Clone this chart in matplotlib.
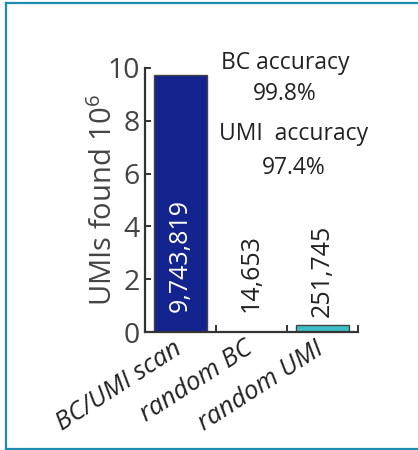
import matplotlib
matplotlib.use("Agg")
import matplotlib.pyplot as plt
from matplotlib.lines import Line2D
from matplotlib.transforms import ScaledTranslation

plt.rcParams["font.family"] = ["Open Sans", "DejaVu Sans"]
plt.rcParams["mathtext.fontset"] = "custom"
plt.rcParams["mathtext.rm"] = "Open Sans"
plt.rcParams["mathtext.it"] = "Open Sans:italic"

# data
categories = ["BC/UMI scan", "random BC", "random UMI"]
umi_counts = [9743819, 14653, 251745]
count_labels = ["9,743,819", "14,653", "251,745"]
bar_colors = ["#13248f", "#13248f", "#3dbfc7"]
yticks = [0, 2, 4, 6, 8, 10]
accuracy_notes = [("BC accuracy", "99.8%"), ("UMI  accuracy", "97.4%")]

values_m = [v / 1e6 for v in umi_counts]
xpos = [1, 2, 3]

fig = plt.figure(figsize=(4.18, 4.5), dpi=100)
ax = fig.add_axes([0.347, 0.262, 0.509, 0.587])

ink = "#333333"
ax.bar(xpos, values_m, width=0.74, color=bar_colors, edgecolor="#444444",
       linewidth=1.0, zorder=2)

ax.set_xlim(0.5, 3.5)
ax.set_ylim(0, 10)
for side in ("top", "right"):
    ax.spines[side].set_visible(False)
for side in ("left", "bottom"):
    ax.spines[side].set_color(ink)
    ax.spines[side].set_linewidth(1.6)

ax.set_yticks(yticks)
ax.set_yticklabels([str(t) for t in yticks], fontsize=20.5, color="#444444")
ax.tick_params(axis="y", direction="in", length=4, width=1.4, color=ink, pad=4)

# category labels at bar centres, tick marks between bars
ax.set_xticks(xpos)
ax.set_xticklabels(categories, rotation=33, ha="right", rotation_mode="anchor",
                   fontsize=18.5, style="italic", color="#222222")
ax.tick_params(axis="x", which="major", length=0, pad=3)
shift = ScaledTranslation(-8 / 100, 0, fig.dpi_scale_trans)
for lab in ax.get_xticklabels():
    lab.set_transform(lab.get_transform() + shift)
ax.set_xticks([1.5, 2.5, 3.5], minor=True)
ax.tick_params(axis="x", which="minor", direction="in", length=5, width=1.4,
               color=ink)

ax.set_ylabel(r"UMIs found $\mathregular{10^6}$", fontsize=21, color="#444444",
              labelpad=-9)

# count labels on the bars
ax.text(xpos[0], 2.9, count_labels[0], rotation=90, ha="center", va="center",
        color="white", fontsize=18)
ax.text(xpos[1], values_m[1] + 0.74, count_labels[1], rotation=90,
        ha="center", va="bottom", color="#222222", fontsize=18)
ax.text(xpos[2], values_m[2] + 0.32, count_labels[2], rotation=90,
        ha="center", va="bottom", color="#222222", fontsize=18)

# accuracy notes
ax.text(2.47, 9.96, accuracy_notes[0][0], ha="center", va="baseline",
        fontsize=16.5, color="#222222", clip_on=False)
ax.text(2.47, 8.79, accuracy_notes[0][1], ha="center", va="baseline",
        fontsize=16.5, color="#222222", clip_on=False)
ax.text(2.6, 7.27, accuracy_notes[1][0], ha="center", va="baseline",
        fontsize=16.5, color="#222222", clip_on=False)
ax.text(2.6, 5.98, accuracy_notes[1][1], ha="center", va="baseline",
        fontsize=16.5, color="#222222", clip_on=False)

# panel frame (open on the right)
W, H = 418, 450
frame = "#1b8db3"
fig.add_artist(Line2D([6 / W, 6 / W], [1 - 2.5 / H, 1 - 448.5 / H],
                      transform=fig.transFigure, color=frame, linewidth=1.6))
fig.add_artist(Line2D([6 / W, 1.0], [1 - 2.5 / H, 1 - 2.5 / H],
                      transform=fig.transFigure, color=frame, linewidth=1.6))
fig.add_artist(Line2D([6 / W, 1.0], [1 - 448.5 / H, 1 - 448.5 / H],
                      transform=fig.transFigure, color=frame, linewidth=1.6))

fig.savefig("out.png", dpi=100)
